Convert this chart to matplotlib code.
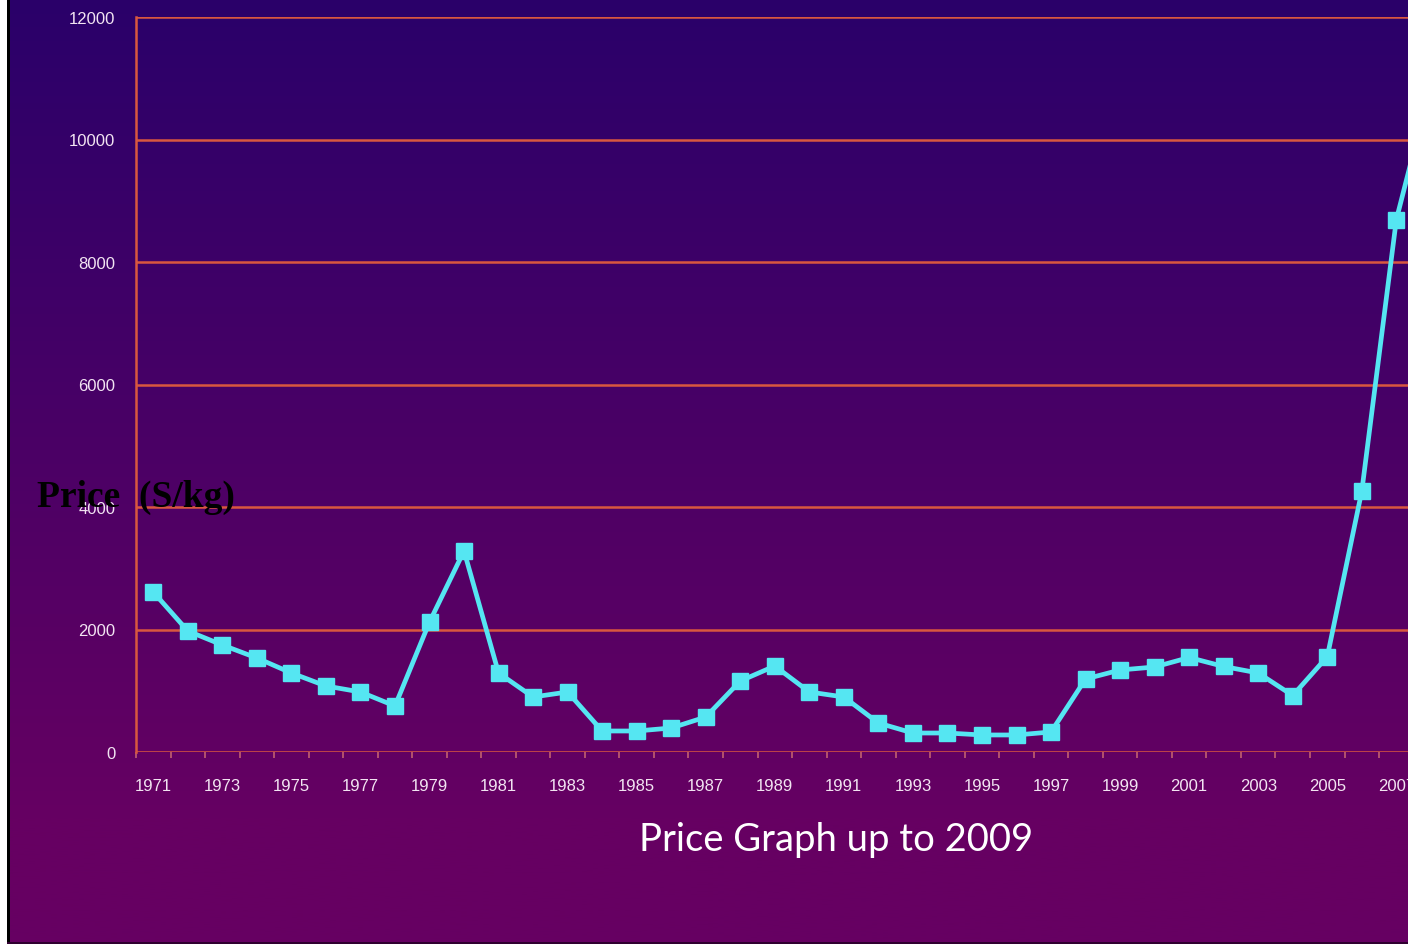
import numpy as np
import matplotlib
matplotlib.use("Agg")
import matplotlib.pyplot as plt
from matplotlib.patches import Rectangle

years = list(range(1971, 2009))
prices = [2612, 1976, 1747, 1535, 1290, 1078, 980, 751, 2122, 3282,
          1290, 898, 980, 343, 343, 392, 571, 1159, 1404, 980,
          898, 473, 310, 310, 278, 278, 327, 1192, 1339, 1388,
          1543, 1396, 1290, 922, 1557, 4261, 8692, 10900]
tick_years = list(range(1971, 2008, 2))
y_ticks = [0, 2000, 4000, 6000, 8000, 10000, 12000]

W, H = 1415, 945
fig = plt.figure(figsize=(W / 100, H / 100), dpi=100)
fig.patch.set_facecolor("white")

# gradient background
bg = fig.add_axes([8 / W, 2 / H, 1400 / W, 943 / H], zorder=-5)
top = np.array([42, 0, 106]) / 255
bot = np.array([102, 0, 98]) / 255
t = np.clip(np.linspace(0, 1.15, 400), 0, 1)[:, None]
grad = top * (1 - t) + bot * t
bg.imshow(grad[:, None, :], aspect="auto", extent=[0, 1, 0, 1])
bg.set_axis_off()

# left black border
fig.patches.append(Rectangle((7 / W, 0), 3 / W, 1, transform=fig.transFigure,
                             facecolor="black", edgecolor="none", zorder=-4))
fig.patches.append(Rectangle((0, 0), 1, 2 / H, transform=fig.transFigure,
                             facecolor="#300030", edgecolor="none", zorder=-4))

step = 34.53
left_px = 136
xmin, xmax = 1970.5, 2008.5
right_px = left_px + (xmax - xmin) * step
ax = fig.add_axes([left_px / W, (H - 753) / H, (right_px - left_px) / W, (753 - 18) / H])
ax.patch.set_alpha(0)

grid_c = "#d9573f"
for v in y_ticks:
    ax.axhline(v, color=grid_c, lw=1.8, zorder=1)
for s in ["top", "right", "bottom"]:
    ax.spines[s].set_visible(False)
ax.spines["left"].set_color(grid_c)
ax.spines["left"].set_linewidth(1.8)

ax.plot(years, prices, color="#55e6f2", lw=3.4, marker="s", markersize=11,
        markeredgecolor="#55e6f2", zorder=3, clip_on=False)

ax.set_yticks(y_ticks)
ax.set_yticklabels([str(v) for v in y_ticks])
ax.tick_params(axis="y", length=0, pad=15, labelsize=12, labelcolor="#f2e4f2")
ax.set_xticks(tick_years)
ax.set_xticklabels([str(v) for v in tick_years])
ax.set_xticks(np.arange(xmin, xmax + 0.01, 1), minor=True)
ax.tick_params(axis="x", which="major", length=0, pad=19, labelsize=12, labelcolor="#f2e4f2")
ax.tick_params(axis="x", which="minor", length=4, width=1.2, color="#c06070")
for lab in ax.get_xticklabels() + ax.get_yticklabels():
    lab.set_fontfamily("Liberation Sans")
ax.set_xlim(xmin, xmax)
ax.set_ylim(0, 12000)

fig.text(37 / W, 1 - 497 / H, "Price  (S/kg)", ha="left", va="center",
         fontsize=27, fontweight="bold", family="Liberation Serif", color="black", zorder=5)
fig.text(836 / W, 1 - 840 / H, "Price Graph up to 2009", ha="center", va="center",
         fontsize=27.5, family="Lato", color="white")

# white margin on the right clips the plot
fig.patches.append(Rectangle((1408 / W, 0), 1, 1, transform=fig.transFigure,
                             facecolor="white", edgecolor="none", zorder=20))
fig.patches.append(Rectangle((0, 0), 7 / W, 1, transform=fig.transFigure,
                             facecolor="white", edgecolor="none", zorder=20))

fig.savefig("out.png", dpi=100)
